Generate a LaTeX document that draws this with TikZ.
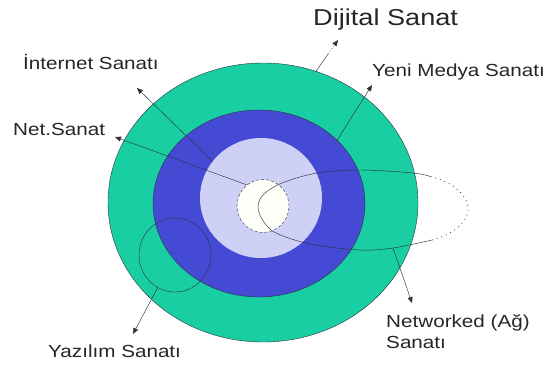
\documentclass[tikz,border=0pt]{standalone}
\definecolor{RingGreen}{RGB}{24,206,162}
\definecolor{RingBlue}{RGB}{68,74,212}
\definecolor{RingLilac}{RGB}{206,209,245}
\definecolor{CoreWhite}{RGB}{255,255,250}
\definecolor{EdgeGray}{RGB}{45,50,60}
\usepackage{fontspec}
\setmainfont{Liberation Sans}
\usepackage{tikz}
\usetikzlibrary{arrows.meta, shapes.geometric}

\begin{document}
\begin{tikzpicture}[x=1pt, y=-1pt,
    ring/.style={ellipse, draw=EdgeGray, line width=0.4pt, inner sep=0pt, outer sep=0pt},
    lbl/.style={font=\fontsize{17.5}{21}\selectfont, xscale=1.18, inner sep=0pt, anchor=base west, text=black!85},
    pointer/.style={-{Triangle[length=6pt, width=5pt]}, line width=0.45pt, EdgeGray}]
  \useasboundingbox (0,0) rectangle (546,369);
  % nested rings
  \node[ring, fill=RingGreen, minimum width=310pt, minimum height=279pt] (dijital) at (263,202.5) {};
  \node[ring, fill=RingBlue, minimum width=212pt, minimum height=187pt] (yenimedya) at (259,203.5) {};
  \node[ring, fill=RingLilac, draw=none, minimum width=122pt, minimum height=120pt] (internet) at (261,198) {};
  \node[ring, fill=CoreWhite, densely dashed, minimum width=52pt, minimum height=53pt] (netsanat) at (263,206) {};
  \node[ring, minimum width=72pt, minimum height=74pt] (yazilim) at (175,255) {};
  % networked loop
  \draw[EdgeGray, line width=0.45pt] plot[smooth, tension=0.55] coordinates {(432,177) (413,173) (360,170) (317,173) (282,183) (263,195) (258,208) (264,222) (276,233) (310,244) (360,250) (393,248) (432,240)};
  \draw[EdgeGray, line width=0.7pt, dash pattern=on 0.9pt off 4pt] (432,240) .. controls (458,233) and (470,218) .. (468,206) .. controls (465,193) and (452,182) .. (432,177);
  \coordinate (networked) at (393,248);

  % labels
  \node[lbl, font=\fontsize{23}{27}\selectfont] (dijital-lbl) at (313,26) {Dijital Sanat};
  \node[lbl] (internet-lbl) at (23,70) {İnternet Sanatı};
  \node[lbl] (yenimedya-lbl) at (372,77) {Yeni Medya Sanatı};
  \node[lbl] (netsanat-lbl) at (13,135) {Net.Sanat};
  \node[lbl] (networked-lbl) at (386,327) {Networked (Ağ)};
  \node[lbl] (networked-lbl2) at (386,348) {Sanatı};
  \node[lbl] (yazilim-lbl) at (48,357) {Yazılım Sanatı};

  % pointers
  \coordinate (dijital-mid) at (328,54);
  \coordinate (dijital-tip) at (338,40);
  \coordinate (internet-tip) at (137,88);
  \coordinate (yenimedya-tip) at (372,85);
  \coordinate (netsanat-tip) at (115,137);
  \coordinate (networked-tip) at (412,303);
  \coordinate (yazilim-tip) at (133,334);
  \draw[EdgeGray, line width=0.45pt] (dijital.68) -- (dijital-mid);
  \draw[pointer, dash pattern=on 1pt off 2pt] (dijital-mid) -- (dijital-tip);
  \draw[pointer] (yenimedya.39) -- (yenimedya-tip);
  \draw[pointer] (internet.143) -- (internet-tip);
  \draw[pointer] (netsanat.127) -- (netsanat-tip);
  \draw[pointer] (networked) -- (networked-tip);
  \draw[pointer] (yazilim.242) -- (yazilim-tip);
\end{tikzpicture}
\end{document}
